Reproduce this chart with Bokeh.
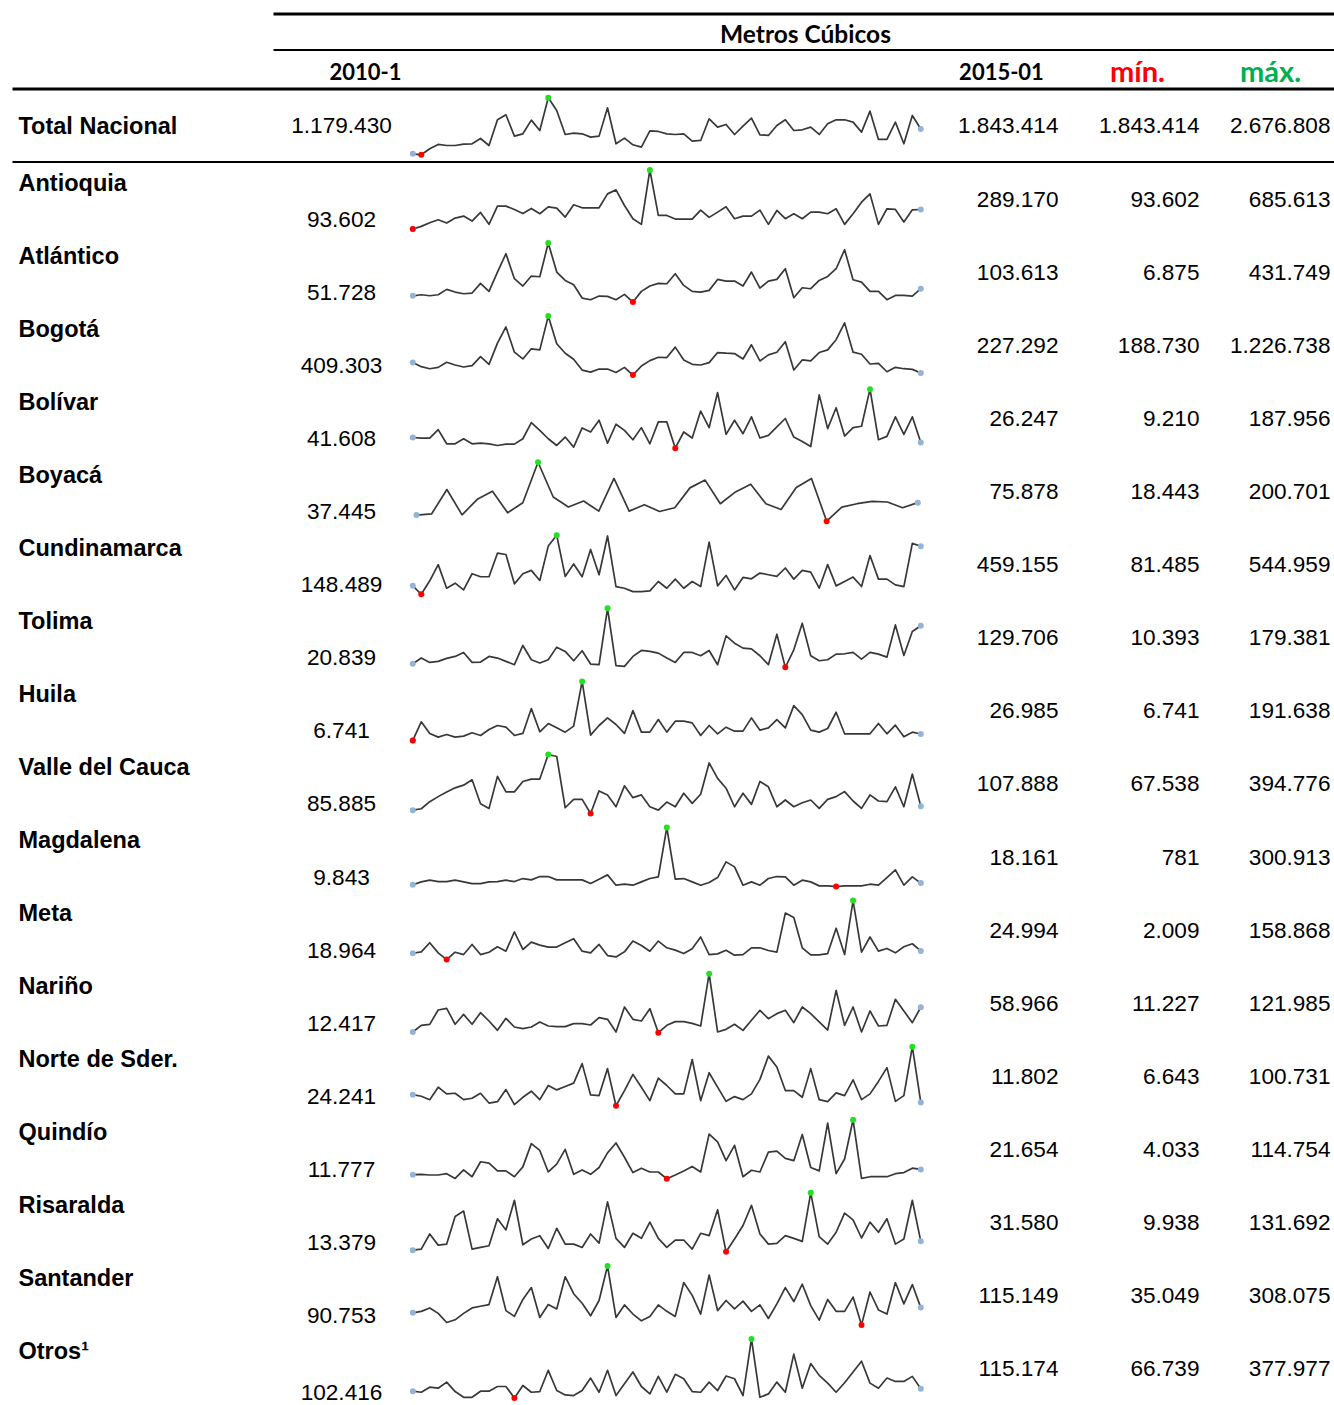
import numpy as np
from bokeh.plotting import figure
from bokeh.models import Range1d
from bokeh.embed import file_html
from bokeh.resources import INLINE
from bokeh.core.properties import value

# ---------------------------------------------------------------------------
# Data: monthly volumes, thousand m³ (2010-01 ... 2015-01)
# ---------------------------------------------------------------------------
regions = ["Total Nacional", "Antioquia", "Atlántico", "Bogotá", "Bolívar", "Boyacá",
           "Cundinamarca", "Tolima", "Huila", "Valle del Cauca", "Magdalena", "Meta",
           "Nariño", "Norte de Sder.", "Quindío", "Risaralda", "Santander", "Otros¹"]

val_2010 = [1179430, 93602, 51728, 409303, 41608, 37445, 148489, 20839, 6741, 85885,
            9843, 18964, 12417, 24241, 11777, 13379, 90753, 102416]
val_2015 = [1843414, 289170, 103613, 227292, 26247, 75878, 459155, 129706, 26985, 107888,
            18161, 24994, 58966, 11802, 21654, 31580, 115149, 115174]
val_min = [1843414, 93602, 6875, 188730, 9210, 18443, 81485, 10393, 6741, 67538,
           781, 2009, 11227, 6643, 4033, 9938, 35049, 66739]
val_max = [2676808, 685613, 431749, 1226738, 187956, 200701, 544959, 179381, 191638, 394776,
           300913, 158868, 121985, 100731, 114754, 131692, 308075, 377977]

total_nacional = [1179.43, 1152.7, 1313, 1429, 1402, 1402, 1438, 1447, 1589, 1402,
                  2089, 2222, 1652, 1714, 2080, 1803, 2676.808, 2338, 1696, 1732,
                  1714, 1625, 1652, 2409, 1447, 1598, 1420, 1358, 1794, 1777,
                  1714, 1696, 1714, 1518, 1536, 2115, 1892, 1964, 1696, 1919,
                  2133, 1687, 1670, 1937, 2089, 1803, 1821, 1892, 1696, 1982,
                  2089, 2089, 2026, 1759, 2320, 1563, 1563, 2026, 1447, 2204, 1843.414]
antioquia = [93.602, 120.2, 156.8, 186.7, 153.5, 203.4, 223.3, 173.4, 259.9, 140.2,
             323.1, 323.1, 289.8, 249.9, 299.8, 246.6, 316.4, 303.1, 213.3, 336.4,
             306.5, 306.5, 306.5, 446.2, 486.1, 329.7, 196.7, 140.2, 685.613, 230.0,
             230.0, 193.4, 193.4, 193.4, 283.2, 210.0, 263.2, 316.4, 196.7, 223.3,
             223.3, 283.2, 140.2, 279.9, 196.7, 246.6, 196.7, 263.2, 263.2, 246.6,
             296.5, 140.2, 246.6, 363.0, 446.2, 140.2, 296.5, 289.8, 163.4, 286.5, 289.170]
atlantico = [51.728, 59.7, 52.5, 59.7, 98.1, 78.9, 66.9, 71.7, 141.3, 83.7,
             222.9, 354.9, 174.9, 122.1, 194.1, 189.3, 431.749, 222.9, 162.9, 131.7,
             35.7, 23.7, 50.1, 47.7, 23.7, 62.1, 6.875, 83.7, 122.1, 141.3,
             138.9, 210.9, 126.9, 83.7, 78.9, 90.9, 170.1, 158.1, 158.1, 122.1,
             222.9, 107.7, 158.1, 170.1, 246.9, 38.1, 110.1, 102.9, 162.9, 191.7,
             246.9, 383.7, 167.7, 150.9, 83.7, 83.7, 23.7, 54.9, 54.9, 50.1, 103.613]
bogota = [409.303, 337.0, 301.4, 325.2, 414.1, 366.7, 331.1, 354.8, 515.0, 378.5,
          752.2, 1036.9, 592.1, 473.4, 651.4, 633.6, 1226.738, 740.4, 574.3, 467.5,
          277.7, 242.1, 295.5, 295.5, 236.2, 325.2, 188.730, 348.9, 443.8, 503.1,
          497.2, 681.0, 455.7, 378.5, 366.7, 408.2, 586.2, 574.3, 568.4, 473.4,
          722.6, 437.9, 544.6, 592.1, 776.0, 277.7, 455.7, 437.9, 586.2, 633.6,
          811.5, 1108.1, 592.1, 556.5, 384.5, 396.3, 248.0, 325.2, 301.4, 289.6, 227.292]
bolivar = [41.608, 39.9, 39.9, 65.4, 22.5, 22.5, 37.8, 22.5, 24.5, 22.5,
           17.4, 21.5, 21.5, 37.8, 86.8, 63.3, 37.8, 17.4, 42.9, 12.3,
           70.5, 58.2, 94.0, 24.5, 81.7, 63.3, 34.7, 71.5, 22.5, 88.9,
           88.9, 9.210, 58.2, 39.9, 121.6, 71.5, 177.7, 51.1, 94.0, 53.1,
           104.2, 39.9, 48.0, 73.6, 99.1, 42.9, 29.6, 14.3, 170.6, 68.5,
           131.8, 46.0, 71.5, 75.6, 187.956, 34.7, 44.9, 104.2, 51.1, 104.2, 26.247]
boyaca = [37.445, 41.4, 116.3, 38.2, 86.1, 111.1, 44.5, 75.7, 200.701, 93.4,
          62.2, 80.9, 49.7, 150.7, 49.7, 69.5, 48.6, 60.1, 121.5, 145.5,
          72.6, 109.1, 133.0, 72.6, 54.9, 122.6, 150.7, 18.443, 62.2, 72.6,
          79.9, 77.8, 60.1, 75.878]
cundinamarca = [148.489, 81.485, 187.4, 314.5, 129.2, 168.9, 115.9, 243.0, 219.2, 219.2,
                404.6, 394.0, 163.6, 243.0, 269.5, 190.1, 460.2, 544.959, 221.9, 319.8,
                219.2, 433.7, 235.1, 539.7, 142.4, 129.2, 102.7, 102.7, 108.0, 182.1,
                129.2, 200.7, 129.2, 182.1, 142.4, 492.0, 147.7, 229.8, 115.9, 213.9,
                203.3, 248.3, 235.1, 221.9, 288.1, 200.7, 269.5, 256.3, 129.2, 314.5,
                147.7, 182.1, 216.6, 142.4, 386.1, 200.7, 200.7, 155.7, 142.4, 481.4, 459.155]
tolima = [20.839, 37.0, 24.6, 27.5, 36.0, 41.7, 53.1, 24.6, 25.6, 41.7,
          37.0, 27.5, 18.0, 73.1, 32.2, 22.7, 32.2, 68.3, 56.0, 29.4,
          57.9, 19.9, 18.0, 179.381, 15.1, 13.2, 41.7, 58.8, 56.0, 51.2,
          37.0, 24.6, 53.1, 53.1, 43.6, 58.8, 18.0, 100.6, 79.7, 65.5,
          63.6, 43.6, 18.0, 105.3, 10.393, 60.7, 136.7, 43.6, 29.4, 32.2,
          48.4, 49.3, 53.1, 34.1, 53.1, 48.4, 39.8, 131.9, 44.6, 112.9, 129.706]
huila = [6.741, 64.9, 28.6, 17.1, 25.4, 17.1, 20.2, 30.6, 22.3, 41.0,
         53.5, 48.3, 22.3, 28.6, 106.5, 33.7, 59.7, 46.2, 32.7, 51.4,
         191.638, 23.4, 53.5, 77.4, 56.6, 28.6, 100.2, 32.7, 32.7, 72.2,
         32.7, 67.0, 67.0, 61.8, 22.3, 53.5, 27.5, 48.3, 35.8, 35.8,
         77.4, 38.9, 46.2, 72.2, 46.2, 115.8, 87.8, 38.9, 32.7, 44.1,
         95.0, 27.5, 27.5, 27.5, 27.5, 59.7, 27.5, 54.5, 18.2, 32.7, 26.985]
valle_del_cauca = [85.885, 93.7, 133.0, 161.0, 187.2, 209.7, 224.6, 254.5, 121.8, 95.6,
                   273.2, 187.2, 187.2, 245.2, 258.3, 258.3, 394.776, 383.6, 99.3, 146.1,
                   146.1, 67.538, 192.8, 170.4, 104.9, 220.9, 155.4, 170.4, 104.9, 86.2,
                   131.1, 104.9, 179.7, 123.6, 174.1, 348.0, 262.0, 207.8, 104.9, 179.7,
                   118.0, 245.2, 215.3, 104.9, 142.3, 104.9, 127.4, 142.3, 95.6, 146.1,
                   161.0, 189.1, 136.7, 95.6, 170.4, 136.7, 133.0, 215.3, 104.9, 286.3, 107.888]
magdalena = [9.843, 24.5, 33.0, 26.2, 26.2, 33.0, 24.5, 16.0, 16.0, 24.5,
             26.2, 33.0, 26.2, 41.5, 34.7, 51.7, 51.7, 34.7, 34.7, 34.7,
             34.7, 16.0, 38.1, 60.1, 7.6, 12.6, 7.6, 24.5, 41.5, 50.0,
             300.913, 38.1, 41.5, 24.5, 7.6, 21.1, 46.6, 126.3, 100.8, 7.6,
             24.5, 7.6, 41.5, 51.7, 50.0, 7.6, 33.0, 24.5, 4.2, 4.2,
             0.781, 4.2, 4.2, 4.2, 12.6, 7.6, 46.6, 85.6, 7.6, 50.0, 18.161]
meta = [18.964, 22.6, 46.8, 19.9, 2.009, 21.7, 15.4, 42.3, 15.4, 21.7,
        36.1, 24.4, 75.5, 28.9, 48.6, 40.5, 35.2, 35.2, 46.8, 57.6,
        24.4, 19.9, 42.3, 12.8, 9.2, 22.6, 51.3, 39.6, 24.4, 51.3,
        33.4, 27.1, 18.1, 30.7, 62.1, 15.4, 17.2, 27.1, 13.7, 15.4,
        33.4, 33.4, 26.2, 21.7, 125.7, 114.0, 33.4, 14.5, 14.5, 18.1,
        85.4, 15.4, 158.868, 21.7, 62.1, 24.4, 31.6, 19.9, 36.1, 44.1, 24.994]
narino = [12.417, 25.0, 26.9, 53.8, 56.9, 26.9, 45.6, 26.9, 48.8, 33.1,
          15.6, 38.1, 21.9, 18.7, 21.9, 31.3, 23.7, 22.5, 22.5, 28.1,
          28.1, 25.6, 39.4, 36.3, 12.5, 59.4, 36.3, 33.1, 56.3, 11.227,
          25.0, 31.9, 31.9, 28.7, 23.7, 121.985, 12.5, 17.5, 26.9, 15.6,
          34.4, 53.2, 37.5, 46.9, 53.2, 30.0, 59.4, 46.9, 31.3, 16.2,
          90.7, 25.0, 59.4, 12.5, 51.9, 23.7, 25.0, 73.8, 51.9, 30.0, 58.966]
norte_de_santander = [24.241, 21.7, 16.3, 36.2, 25.5, 26.5, 16.3, 18.5, 26.5, 10.9,
                      13.1, 32.4, 8.3, 20.1, 29.8, 16.3, 38.9, 31.9, 37.3, 42.7,
                      73.8, 23.8, 22.8, 65.8, 6.643, 30.8, 56.6, 36.2, 14.7, 50.7,
                      38.9, 25.5, 25.5, 80.3, 14.7, 59.3, 36.2, 13.6, 21.2, 16.3,
                      25.5, 48.6, 85.7, 68.5, 30.8, 30.8, 20.1, 65.8, 16.3, 13.1,
                      27.1, 22.8, 48.0, 16.3, 25.5, 45.4, 67.4, 13.6, 22.8, 100.731, 11.802]
quindio = [11.777, 12.4, 11.1, 11.1, 13.6, 4.7, 20.7, 7.9, 36.0, 33.5,
           18.8, 18.8, 7.9, 26.4, 70.0, 57.2, 16.8, 31.6, 59.1, 12.4,
           20.7, 12.4, 25.2, 52.7, 71.2, 44.4, 15.6, 23.9, 16.8, 16.8,
           4.033, 11.1, 18.8, 27.1, 16.8, 87.9, 73.2, 38.0, 66.8, 7.9,
           20.0, 16.8, 54.0, 55.9, 42.4, 38.0, 87.2, 25.2, 18.8, 108.4,
           13.6, 41.2, 114.754, 4.7, 7.9, 7.9, 7.9, 13.6, 15.6, 23.9, 21.654]
risaralda = [13.379, 15.5, 46.8, 23.8, 25.9, 83.0, 94.1, 15.5, 19.0, 22.5,
             78.1, 55.2, 116.4, 24.5, 36.4, 43.3, 16.9, 58.6, 25.9, 25.9,
             19.0, 46.8, 28.0, 112.9, 37.8, 19.0, 48.2, 37.8, 71.2, 37.8,
             19.0, 34.3, 34.3, 15.5, 48.2, 43.3, 96.9, 9.938, 36.4, 64.2,
             105.9, 46.8, 25.9, 27.3, 43.3, 37.8, 31.5, 131.692, 41.2, 25.9,
             50.3, 89.9, 76.0, 38.5, 71.2, 50.3, 78.1, 25.9, 36.4, 116.4, 31.580]
santander = [90.753, 97.8, 113.5, 88.4, 46.0, 58.6, 88.4, 113.5, 121.4, 129.2,
             257.9, 101.0, 74.3, 152.7, 207.7, 69.6, 129.2, 108.8, 257.9, 179.4,
             135.5, 77.4, 148.0, 308.075, 69.6, 127.6, 85.3, 53.9, 74.3, 127.6,
             97.8, 74.3, 231.2, 171.6, 85.3, 265.7, 101.0, 148.0, 108.8, 144.9,
             97.8, 127.6, 64.9, 132.3, 207.7, 143.3, 223.3, 124.5, 57.0, 152.7,
             97.8, 97.8, 163.7, 35.049, 187.3, 104.1, 85.3, 231.2, 132.3, 221.8, 115.149]
otros = [102.416, 97.0, 123.6, 118.3, 150.3, 100.5, 70.3, 70.3, 102.3, 102.3,
         127.2, 127.2, 66.739, 132.5, 97.0, 100.5, 212.6, 105.9, 82.7, 79.2,
         105.9, 171.7, 97.0, 212.6, 79.2, 141.4, 203.7, 127.2, 88.1, 180.6,
         97.0, 191.2, 168.1, 100.5, 97.0, 150.3, 105.9, 182.3, 168.1, 79.2,
         377.977, 70.3, 88.1, 150.3, 97.0, 298.0, 118.3, 248.1, 185.9, 145.0,
         97.0, 146.8, 203.7, 260.6, 145.0, 118.3, 171.7, 153.9, 153.9, 180.6, 115.174]

series = [total_nacional, antioquia, atlantico, bogota, bolivar, boyaca, cundinamarca,
          tolima, huila, valle_del_cauca, magdalena, meta, narino, norte_de_santander,
          quindio, risaralda, santander, otros]

# ---------------------------------------------------------------------------
# Layout
# ---------------------------------------------------------------------------
W, H = 1334, 1405
NUM_FONT = value("Liberation Sans")
HEAD_FONT = value("Lato")

LINE_COLOR = "#383838"
END_COLOR = "#95B3D7"
MIN_COLOR = "#FF0000"
MAX_COLOR = "#22E022"


def fmt(v):
    return f"{v:,}".replace(",", ".")


def screen_range(lo_val, hi_val, lo_px, hi_px, total_px):
    """Range whose lo_val/hi_val land on lo_px/hi_px of a canvas total_px long."""
    k = (hi_val - lo_val) / (hi_px - lo_px)
    return Range1d(start=lo_val - lo_px * k, end=lo_val + (total_px - lo_px) * k)


p = figure(width=W, height=H, output_backend="svg", toolbar_location=None,
           x_range=Range1d(0, W), y_range=Range1d(H, 0),
           x_axis_location=None, y_axis_location=None, min_border=0,
           outline_line_color=None, background_fill_color="white",
           border_fill_color="white")
p.grid.visible = False

# table rules
p.segment(x0=[273, 273, 12, 12], y0=[13.5, 49.5, 88.5, 161.5],
          x1=[W, W, W, W], y1=[13.5, 49.5, 88.5, 161.5],
          line_color="black", line_width=[3, 2, 3, 2])

# header
p.text(x=[805], y=[33], text=["Metros Cúbicos"], text_font=HEAD_FONT,
       text_font_style="bold", text_font_size="24.5px", text_align="center",
       text_baseline="middle", text_color="black")
p.text(x=[365, 1001], y=[71, 71], text=["2010-1", "2015-01"], text_font=HEAD_FONT,
       text_font_style="bold", text_font_size="22px", text_align="center",
       text_baseline="middle", text_color="black")
p.text(x=[1137], y=[70], text=["mín."], text_font=HEAD_FONT, text_font_style="bold",
       text_font_size="29px", text_align="center", text_baseline="middle",
       text_color="#FF0000")
p.text(x=[1270], y=[70], text=["máx."], text_font=HEAD_FONT, text_font_style="bold",
       text_font_size="29px", text_align="center", text_baseline="middle",
       text_color="#00B050")

# row geometry
ROW0, ROW_STEP = 182.0, 73.06
name_y, first_y, other_y, band = [], [], [], []
for r in range(len(regions)):
    if r == 0:
        name_y.append(125.0)
        first_y.append(125.0)
        other_y.append(125.0)
        band.append((97.3, 154.3))
    else:
        y = ROW0 + ROW_STEP * (r - 1)
        name_y.append(y)
        # the footnoted last row sits a little lower
        first_y.append(y + (41 if r == len(regions) - 1 else 37))
        other_y.append(y + 17)
        band.append((y - 12.5, y + 46.5))

# row labels and numbers
p.text(x=[18] * len(regions), y=name_y, text=regions, text_font=NUM_FONT,
       text_font_style="bold", text_font_size="23.5px", text_align="left",
       text_baseline="middle", text_color="black")
p.text(x=[341] * len(regions), y=first_y, text=[fmt(v) for v in val_2010],
       text_font=NUM_FONT, text_font_size="22.6px", text_align="center",
       text_baseline="middle", text_color="black")
for col_x, vals in ((1058, val_2015), (1199, val_min), (1330, val_max)):
    p.text(x=[col_x] * len(regions), y=other_y, text=[fmt(v) for v in vals],
           text_font=NUM_FONT, text_font_size="22.6px", text_align="right",
           text_baseline="middle", text_color="black")

# sparklines: every row gets its own value scale
x_ranges, y_ranges = {}, {}
for r, s in enumerate(series):
    s = np.asarray(s, dtype=float)
    n = len(s)
    xname = f"idx{n}"
    if xname not in x_ranges:
        x0, x1 = (412.3, 920.3) if n == 61 else (416.0, 917.3)
        x_ranges[xname] = screen_range(0, n - 1, x0, x1, W)
    top, bot = band[r]
    yname = f"row{r}"
    y_ranges[yname] = screen_range(s.min(), s.max(), H - bot, H - top, H)
p.extra_x_ranges = x_ranges
p.extra_y_ranges = y_ranges

for r, s in enumerate(series):
    s = np.asarray(s, dtype=float)
    n = len(s)
    idx = np.arange(n)
    kw = dict(x_range_name=f"idx{n}", y_range_name=f"row{r}")
    p.line(idx, s, line_color=LINE_COLOR, line_width=1.7, line_join="round", **kw)
    p.scatter([0, n - 1], [s[0], s[-1]], size=6, fill_color=END_COLOR,
              line_color=None, **kw)
    lo, hi = int(np.argmin(s)), int(np.argmax(s))
    p.scatter([lo], [s[lo]], size=6, fill_color=MIN_COLOR, line_color=None, **kw)
    p.scatter([hi], [s[hi]], size=6, fill_color=MAX_COLOR, line_color=None, **kw)

with open("out.html", "w") as f:
    f.write(file_html(p, INLINE))
